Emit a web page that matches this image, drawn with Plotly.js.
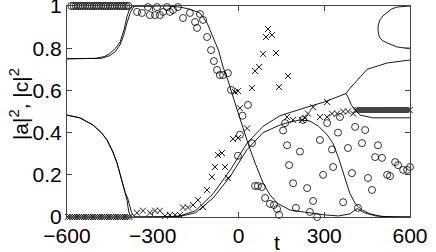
<!DOCTYPE html>
<html>
<head>
<meta charset="utf-8">
<script src="https://cdn.plot.ly/plotly-3.0.1.min.js"></script>
<style>html,body{margin:0;padding:0;background:#fff;}#chart{width:436px;height:252px;}</style>
</head>
<body>
<div id="chart"></div>
<script>
// ---- data ----
var xTicks = [-600, -300, 0, 300, 600];
var yTicks = [0, 0.2, 0.4, 0.6, 0.8, 1];
var yTickText = ['0', '0.2', '0.4', '0.6', '0.8', '1'];

// solid curves
var line1T = [-600,-500,-470,-450,-430,-414,-400,-390,-380,-370,-250,-205,-170,-135,-110,-89,-70,-54,-35,-19,-5,15,33,58,86,110,135,180,250,300,350,390,415,440,480,530,600];
var line1V = [0.75,0.752,0.76,0.775,0.80,0.83,0.89,0.95,0.99,1.0,1.0,0.995,0.985,0.967,0.92,0.853,0.79,0.711,0.64,0.569,0.507,0.43,0.35,0.256,0.161,0.105,0.066,0.033,0.019,0.01,0.005,0.015,0.04,0.02,0.005,0,0];
var line2T = [-600,-480,-450,-430,-415,-402,-390,-378,-365,-300];
var line2V = [0.75,0.752,0.765,0.785,0.815,0.86,0.92,0.97,1.0,1.0];
var line3T = [-600,-555,-509,-480,-460,-440,-425,-412,-404,-396,-390,-387,-383,-378,-370];
var line3V = [0.483,0.47,0.436,0.40,0.365,0.31,0.256,0.19,0.142,0.11,0.08,0.05,0.02,0.005,0];
var line4T = [-600,-555,-509,-480,-460,-440,-425,-412,-404,-396,-388,-380,-374,-366,-360];
var line4V = [0.483,0.47,0.436,0.40,0.365,0.31,0.256,0.19,0.145,0.115,0.09,0.05,0.02,0.005,0];
var rise1T = [-370,-250,-205,-150,-89,-30,30,86,145,200,250,300,350,376,390,450,520,600];
var rise1V = [0,0,0.005,0.03,0.11,0.22,0.35,0.43,0.48,0.505,0.525,0.545,0.57,0.585,0.61,0.70,0.73,0.744];
var dropT = [376,383,395,408,425,470,600];
var dropV = [0.585,0.569,0.53,0.507,0.483,0.47,0.47];
var rise2T = [-360,-250,-205,-150,-89,-30,30,86,145,180,215,250,280,310,330,350,370,390,410,430,460,500,600];
var rise2V = [0,0,0.003,0.02,0.09,0.19,0.32,0.40,0.436,0.45,0.46,0.455,0.43,0.39,0.35,0.28,0.19,0.11,0.06,0.035,0.015,0.003,0];
var loopT = [600,575,554,535,520,505,495,489,488,490,495,505,520,535,554,575,600];
var loopV = [1.0,0.999,0.995,0.985,0.97,0.953,0.934,0.91,0.886,0.866,0.848,0.835,0.825,0.815,0.806,0.802,0.80];

// circle markers
var circT = [-585,-577,-569,-561,-553,-545,-537,-529,-521,-513,-505,-497,-489,-481,-473,-465,-457,-449,-441,-433,-425,-417,-409,-401,-393,-385,
  -355,-338,-317,-310,-292,-285,-275,-264,-250,-240,-229,-212,-194,-170,-152,-135,-124,-145,-110,-96,-86,-75,-65,-54,-37,-26,
  33,14,5,47,-2,58,68,82,93,110,124,135,142,156,163,170,177,191,201,215,226,240,250,261,275,285,296,310,327,331,348,355,366,383,397,408,418,432,443,453,467,478,488,502,520,530,548,558,576,590,600];
var circV = [1,1,1,1,1,1,1,1,1,1,1,1,1,1,1,1,1,1,1,1,1,1,1,1,1,1,
  0.972,0.967,0.995,0.957,0.957,0.995,0.957,0.972,0.995,0.972,0.981,0.995,0.943,0.967,0.924,0.962,0.934,0.896,0.853,0.791,0.739,0.697,0.673,0.673,0.682,0.602,
  0.531,0.48,0.39,0.35,0.29,0.147,0.147,0.142,0.09,0.062,0.057,0.038,0.01,0.41,0.445,0.34,0.246,0.16,0.043,0.31,0.46,0.137,0.024,0.076,0.0,0.365,0.2,0.445,0.32,0.237,0.40,0.474,0.07,0.327,0.208,0.427,0.043,0.35,0.412,0.185,0.128,0.284,0.34,0.28,0.2,0.194,0.26,0.246,0.223,0.223,0.237];

// cross markers
var crossT = [-597,-589,-581,-573,-565,-557,-549,-541,-533,-525,-517,-509,-501,-493,-485,-477,-469,-461,-453,-445,-437,-429,-421,-413,-405,-397,-389,-381,
  -355,-334,-310,-292,-275,-257,-240,-222,-205,-194,-177,-159,-142,-124,-110,-93,-82,-72,-58,-47,-37,-19,-2,5,-12,-2,30,47,58,72,86,96,103,117,131,142,173,170,191,222,233,243,261,285,310,310,327,345,366,383,401,
  410,417,424,431,438,445,452,459,466,473,480,487,494,501,508,515,522,529,536,543,550,557,564,571,578,585,592,599];
var crossV = [0,0,0,0,0,0,0,0,0,0,0,0,0,0,0,0,0,0,0,0,0,0,0,0,0,0,0,0,
  0.02,0.03,0.02,0.03,0.03,0.005,0.01,0.01,0.01,0.045,0.045,0.057,0.08,0.047,0.128,0.19,0.237,0.294,0.303,0.237,0.185,0.37,0.374,0.516,0.592,0.597,0.42,0.611,0.692,0.711,0.773,0.853,0.891,0.863,0.777,0.616,0.668,0.474,0.46,0.46,0.47,0.49,0.52,0.474,0.545,0.474,0.49,0.49,0.50,0.50,0.49,
  0.507,0.507,0.507,0.507,0.507,0.507,0.507,0.507,0.507,0.507,0.507,0.507,0.507,0.507,0.507,0.507,0.507,0.507,0.507,0.507,0.507,0.507,0.507,0.507,0.507,0.507,0.507,0.507];

// ---- traces ----
function lineTrace(x, y) {
  return {x: x, y: y, type: 'scatter', mode: 'lines', line: {color: '#000', width: 0.9}, hoverinfo: 'skip'};
}
var traces = [
  lineTrace(line1T, line1V), lineTrace(line2T, line2V), lineTrace(line3T, line3V), lineTrace(line4T, line4V),
  lineTrace(rise1T, rise1V), lineTrace(dropT, dropV), lineTrace(rise2T, rise2V), lineTrace(loopT, loopV),
  {x: circT, y: circV, type: 'scatter', mode: 'markers', cliponaxis: false,
   marker: {symbol: 'circle-open', size: 7, color: '#000', line: {width: 0.8, color: '#000'}}},
  {x: crossT, y: crossV, type: 'scatter', mode: 'markers', cliponaxis: false,
   marker: {symbol: 'x-thin-open', size: 6, color: '#000', line: {width: 0.9, color: '#000'}}}
];

var tickFont = {family: 'Liberation Sans, Arial, Helvetica, sans-serif', size: 21, color: '#000'};
var layout = {
  width: 436, height: 252,
  margin: {l: 67, r: 26, t: 6, b: 35, pad: 0},
  paper_bgcolor: '#fff', plot_bgcolor: '#fff',
  showlegend: false,
  xaxis: {range: [-600, 600], tickvals: xTicks, ticks: 'inside', ticklen: 5, tickcolor: '#444',
          showline: true, mirror: 'ticks', linecolor: '#444', linewidth: 1,
          showgrid: false, zeroline: false, tickfont: tickFont, ticklabeloverflow: 'allow'},
  yaxis: {range: [0, 1], tickvals: yTicks, ticktext: yTickText, ticks: 'inside', ticklen: 5, tickcolor: '#444',
          showline: true, mirror: 'ticks', linecolor: '#444', linewidth: 1,
          showgrid: false, zeroline: false, tickfont: tickFont, ticklabeloverflow: 'allow'},
  annotations: [
    {text: 't', xref: 'paper', yref: 'paper', x: 0.612, y: 0, yshift: -25, xanchor: 'center', yanchor: 'middle',
     showarrow: false, font: tickFont},
    {text: '|a|<sup>2</sup>, |c|<sup>2</sup>', xref: 'paper', yref: 'paper', x: 0, y: 0.535, xshift: -48,
     xanchor: 'center', yanchor: 'middle', textangle: -90, showarrow: false, font: tickFont}
  ]
};
Plotly.newPlot('chart', traces, layout, {displayModeBar: false, staticPlot: true});
</script>
</body>
</html>
